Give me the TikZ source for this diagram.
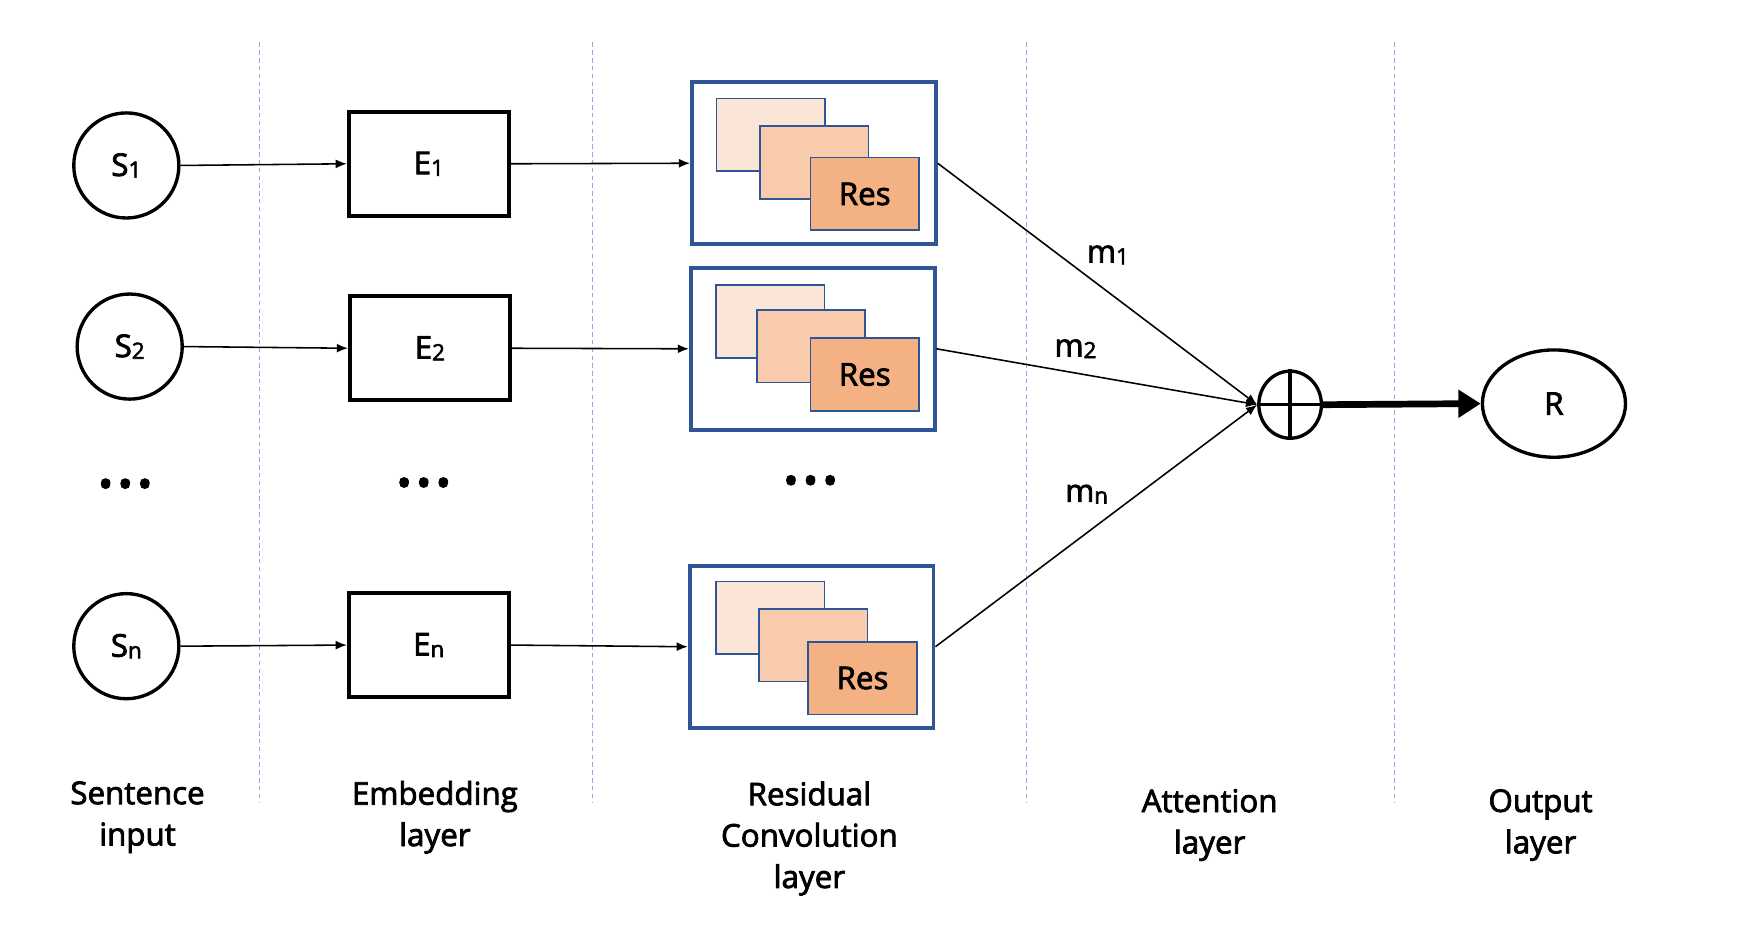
\documentclass[tikz,border=0pt]{standalone}
\usepackage{fontspec}
\setmainfont{Open Sans}[FakeBold=2.5]
\usetikzlibrary{arrows.meta,shapes.geometric,positioning}
\definecolor{resblue}{HTML}{2F5597}
\definecolor{gridblue}{HTML}{8FAADC}
\definecolor{layA}{HTML}{FBE5D6}
\definecolor{layB}{HTML}{F8CBAD}
\definecolor{layC}{HTML}{F4B183}
\newcommand{\ix}[1]{\raisebox{-1.5pt}{\fontsize{20}{20}\selectfont #1}}
\newcommand{\dotrow}{{\fontsize{36}{36}\selectfont\textbullet\kern4pt\textbullet\kern4pt\textbullet}}

\begin{document}
\begin{tikzpicture}[x=1pt,y=1pt,font=\fontsize{28}{37}\selectfont,
  sent/.style={draw,circle,line width=3pt,minimum size=94pt,inner sep=0pt},
  emb/.style={draw,rectangle,line width=3.5pt,minimum width=143pt,minimum height=93pt},
  resbox/.style={draw=resblue,line width=3.5pt,fill=white,minimum width=218pt,minimum height=145pt},
  lay/.style={draw=resblue,line width=1.5pt,minimum width=97pt,minimum height=65pt,inner sep=0pt},
  link/.style={line width=1.4pt,-{Latex[length=10pt,width=8pt]}},
  sep/.style={gridblue,line width=1pt,dash pattern=on 4pt off 3pt}]
\useasboundingbox (0,0) rectangle (1560,-830);
% layer separators
\draw [sep] (232,-38) -- (232,-718);
\draw [sep] (530,-38) -- (530,-718);
\draw [sep] (918,-38) -- (918,-718);
\draw [sep] (1247,-38) -- (1247,-718);
% sentence inputs
\node [sent] (s1) at (113,-148) {S\ix{1}};
\node [sent] (s2) at (116,-310) {S\ix{2}};
\node [sent] (sn) at (113,-578) {S\ix{n}};
\node (sdots) at (112,-437) {\dotrow};
% embeddings
\node [emb] (e1) at (383.5,-146.5) {E\ix{1}};
\node [emb] (e2) at (384.5,-311.5) {E\ix{2}};
\node [emb] (en) at (383.5,-577) {E\ix{n}};
\node (edots) at (379,-436) {\dotrow};
% residual blocks
\node [resbox] (res1) at (728,-146) {};
\node [lay,fill=layA] (a1) at (689.5,-120.5) {};
\node [lay,fill=layB] (b1) at (728.5,-145.5) {};
\node [lay,fill=layC] (c1) at (773.5,-173.5) {Res};
\node [resbox] (res2) at (727,-312) {};
\node [lay,fill=layA] (a2) at (689,-287.5) {};
\node [lay,fill=layB] (b2) at (725.5,-309.5) {};
\node [lay,fill=layC] (c2) at (773.5,-335) {Res};
\node [resbox] (resn) at (726,-578.5) {};
\node [lay,fill=layA] (an) at (689,-552.5) {};
\node [lay,fill=layB] (bn) at (727.5,-577) {};
\node [lay,fill=layC] (cn) at (771.5,-606.5) {Res};
\node (rdots) at (725,-434) {\dotrow};
% attention and output
\node [draw,ellipse,line width=3pt,minimum width=56pt,minimum height=60pt,inner sep=0pt] (plus) at (1154,-362) {};
\draw [line width=3pt] (plus.north) -- (plus.south) (plus.west) -- (plus.east);
\node [draw,ellipse,line width=3pt,minimum width=128pt,minimum height=96pt] (r) at (1390,-361) {R};
% connectors
\draw [link] (s1.east) -- (e1.west);
\draw [link] (s2.east) -- (e2.west);
\draw [link] (sn.east) -- (en.west);
\draw [link] (e1.east) -- (res1.west);
\draw [link] (e2.east) -- (res2.west);
\draw [link] (en.east) -- (resn.west);
\draw [link] (res1.east) -- (plus.west);
\draw [link] (res2.east) -- (plus.west);
\draw [link] (resn.east) -- (plus.west);
\draw [line width=6pt,-{Triangle[length=20pt,width=24pt]}] (plus.east) -- (r.west);
\node (m1) at (991,-228) {m\ix{1}};
\node (m2) at (962,-312) {m\ix{2}};
\node (mn) at (972,-442) {m\ix{n}};
% layer names
\node [align=center] (lsent) at (123,-731) {Sentence\\input};
\node [align=center] (lemb) at (389,-731) {Embedding\\layer};
\node [align=center] (lres) at (724,-750) {Residual\\Convolution\\layer};
\node [align=center] (latt) at (1082,-738) {Attention\\layer};
\node [align=center] (lout) at (1378,-738) {Output\\layer};
\end{tikzpicture}
\end{document}
